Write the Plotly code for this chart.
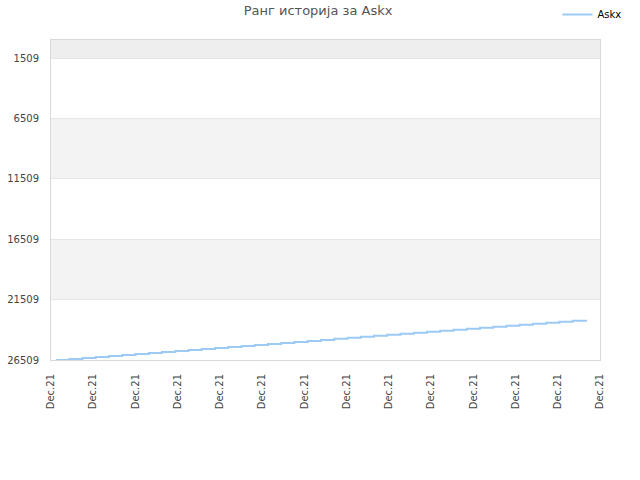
import plotly.graph_objects as go
import numpy as np

title_text = "Ранг историја за Askx"
series_name = "Askx"
tick_label = "Dec.21"

# Rank values (one per step, ~1px each)
rank_values = [
    26509, 26426, 26343, 26259, 26176, 26093, 26009, 25926, 25843, 25759,
    25676, 25593, 25509, 25426, 25343, 25259, 25176, 25093, 25009, 24926,
    24843, 24759, 24676, 24593, 24509, 24426, 24343, 24259, 24176, 24093,
    24009, 23926, 23843, 23759, 23676, 23593, 23509, 23426, 23343, 23259,
    23176,
]
step_index = list(range(len(rank_values)))

y_ticks = [1509, 6509, 11509, 16509, 21509, 26509]
band_edges = [(6509, 11509), (16509, 21509)]
y_top = 9
x_min, x_max = -0.38, 41.06
n_xticks = 14

fig = go.Figure()
fig.add_trace(go.Scatter(
    x=step_index, y=rank_values, mode="lines", name=series_name,
    line=dict(color="#9ccaf5", width=2, shape="hv"),
))

shapes = []
shapes.append(dict(type="rect", xref="paper", yref="y", x0=0, x1=1,
                   y0=y_top, y1=y_ticks[0], fillcolor="#eeeeee",
                   line=dict(width=0), layer="below"))
for a, b in band_edges:
    shapes.append(dict(type="rect", xref="paper", yref="y", x0=0, x1=1,
                       y0=a, y1=b, fillcolor="#f3f3f3",
                       line=dict(width=0), layer="below"))
fig.update_layout(shapes=shapes)

tickvals = list(np.linspace(x_min, x_max, n_xticks))

fig.update_layout(
    width=640, height=480,
    margin=dict(l=51, r=40, t=40, b=120, autoexpand=False),
    paper_bgcolor="white", plot_bgcolor="white",
    font=dict(family="DejaVu Sans", size=10, color="#333333"),
    title=dict(text=title_text, x=0.497, xanchor="center", y=0.988, yanchor="top",
               font=dict(size=13, color="#555555")),
    showlegend=True,
    legend=dict(x=0.871, y=1.003, xanchor="left", yanchor="top",
                xref="container", yref="container",
                itemwidth=30,
                font=dict(size=10, color="#000000"),
                bgcolor="rgba(0,0,0,0)"),
    xaxis=dict(range=[x_min, x_max], tickmode="array", tickvals=tickvals,
               ticktext=[tick_label] * n_xticks, tickangle=-90,
               showgrid=False, zeroline=False,
               showline=True, linecolor="#d9d9d9", linewidth=1, mirror=True,
               ticks="", ticklabelstandoff=9,
               tickfont=dict(size=10, color="#444444")),
    yaxis=dict(range=[26509, y_top], tickmode="array", tickvals=y_ticks,
               ticktext=[str(v) for v in y_ticks],
               showgrid=True, gridcolor="#e6e6e6", gridwidth=1, zeroline=False,
               showline=True, linecolor="#d9d9d9", linewidth=1, mirror=True,
               ticks="", ticklabelstandoff=9,
               tickfont=dict(size=10, color="#444444")),
)

fig.write_html("out.html", config={"displayModeBar": False},
               post_script="document.body.style.margin='0';")
